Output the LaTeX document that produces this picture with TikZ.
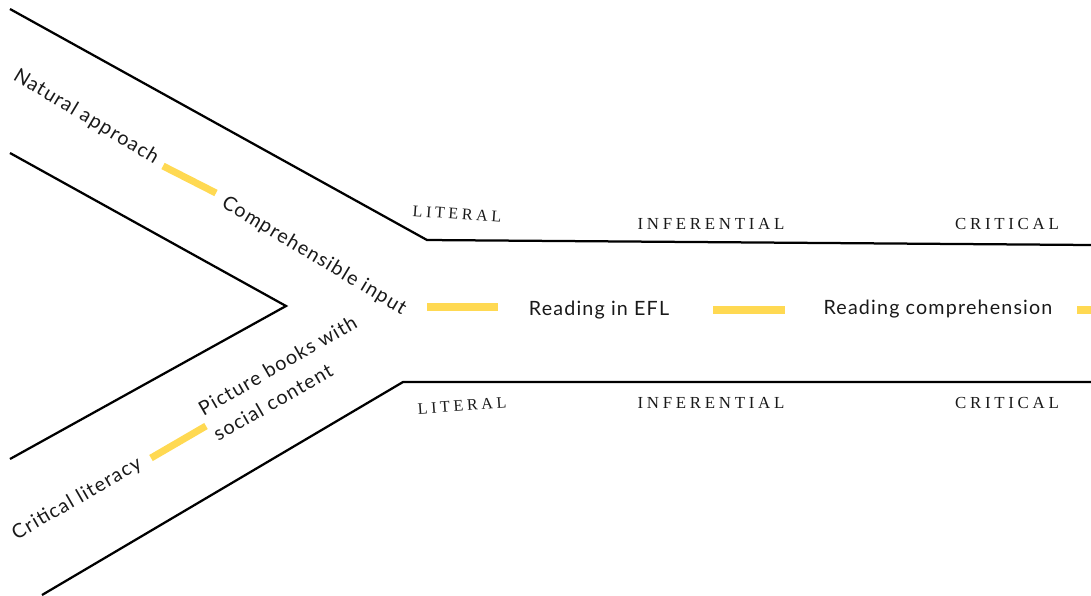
\documentclass[tikz,border=0pt]{standalone}
\usepackage{fontspec}
\usepackage{tikz}
\newfontfamily\roadfont[LetterSpace=6]{Lato}
\newfontfamily\levelfont[LetterSpace=22]{Liberation Serif}
\definecolor{laneyellow}{HTML}{FFD952}
\tikzstyle{road} = [line width=1.6pt, black]
\tikzstyle{stripe} = [line width=5pt, laneyellow]
\tikzstyle{stop} = [font=\roadfont\fontsize{14}{21}\selectfont, text=black!90, inner sep=0pt]
\tikzstyle{level} = [font=\levelfont\fontsize{12}{14}\selectfont, text=black!90, inner sep=0pt]

\begin{document}
\begin{tikzpicture}[x=0.025cm, y=-0.025cm]
	\useasboundingbox (0,0) rectangle (1091,595);
	\coordinate (topstart) at (10,9);
	\coordinate (topbend) at (427,240);
	\coordinate (topend) at (1091,245);
	\coordinate (innerup) at (10,153);
	\coordinate (innertip) at (286,306);
	\coordinate (innerdown) at (10,459);
	\coordinate (lowstart) at (42,595);
	\coordinate (lowbend) at (403,382);
	\coordinate (lowend) at (1091,382);
	\draw[road] (topstart) -- (topbend) -- (topend);
	\draw[road] (innerup) -- (innertip) -- (innerdown);
	\draw[road] (lowstart) -- (lowbend) -- (lowend);

	\node[stop, rotate=-31] (natural) at (86,117) {Natural approach};
	\node[stop, rotate=-31] (comprehensible) at (314,256) {Comprehensible input};
	\node[stop] (efl) at (599,310) {Reading in EFL};
	\node[stop] (comprehension) at (938,309) {Reading comprehension};
	\node[stop, rotate=30, align=left] (picturebooks) at (285,378) {Picture books with\\social content};
	\node[stop, rotate=30] (criticallit) at (77,499) {Critical literacy};

	\node[level, rotate=-4, font=\levelfont\fontsize{11.5}{14}\selectfont] (literalup) at (457,214) {LITERAL};
	\node[level] (inferentialup) at (711,224) {INFERENTIAL};
	\node[level] (criticalup) at (1007,224) {CRITICAL};
	\node[level, rotate=4, font=\levelfont\fontsize{11.5}{14}\selectfont] (literaldown) at (462,406) {LITERAL};
	\node[level] (inferentialdown) at (711,403) {INFERENTIAL};
	\node[level] (criticaldown) at (1007,403) {CRITICAL};

	\coordinate (laneA1) at (163,166);
	\coordinate (laneA2) at (216,193);
	\coordinate (laneB1) at (427,307);
	\coordinate (laneB2) at (498,307);
	\coordinate (laneC1) at (713,310);
	\coordinate (laneC2) at (785,310);
	\coordinate (laneD1) at (1077,310);
	\coordinate (laneD2) at (1100,310);
	\coordinate (laneE1) at (151,458);
	\coordinate (laneE2) at (206,426);
	\draw[stripe] (laneA1) -- (laneA2);
	\draw[stripe] (laneB1) -- (laneB2);
	\draw[stripe] (laneC1) -- (laneC2);
	\draw[stripe] (laneD1) -- (laneD2);
	\draw[stripe] (laneE1) -- (laneE2);
\end{tikzpicture}
\end{document}
